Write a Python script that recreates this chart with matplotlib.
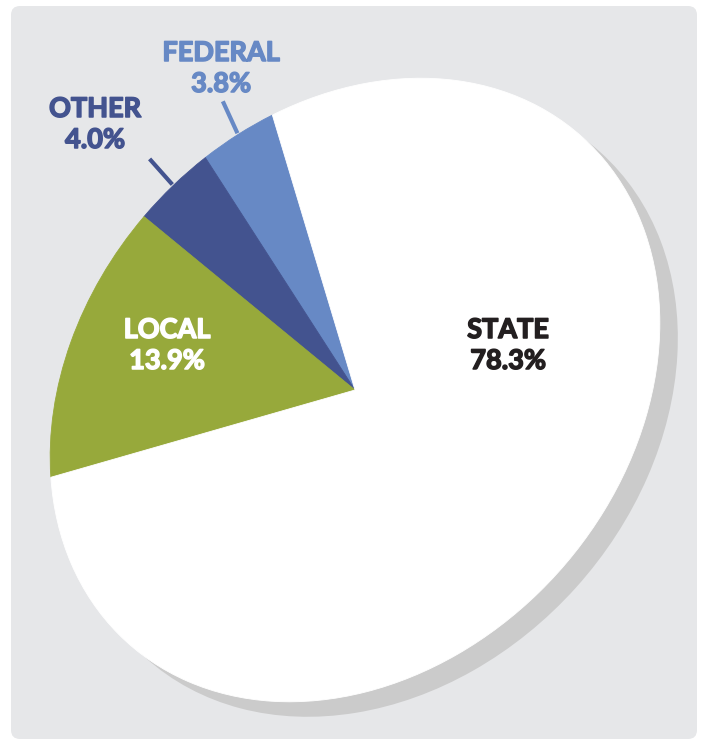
import numpy as np
import matplotlib.pyplot as plt
import matplotlib.patheffects as pe
from matplotlib.patches import FancyBboxPatch
from matplotlib.transforms import Affine2D

plt.rcParams['font.family'] = ['Lato', 'DejaVu Sans']

####################################
# data
####################################
categories = ['FEDERAL', 'OTHER', 'LOCAL', 'STATE']
shares = [3.8, 4.0, 13.9, 78.3]
colors = ['#6789c5', '#43538f', '#97a93b', '#ffffff']
label_colors = ['#6789c5', '#43538f', '#ffffff', '#231f20']

####################################
# layout (pixel units, y measured from top)
####################################
W, H = 702, 740
cx, cy = 355, H - 390          # apex of the pie
ax_major, ax_minor, tilt = 340, 273, 48   # pie is drawn as a tilted ellipse
shadow_dx, shadow_dy = 18, -15
label_xy = [(221, 53), (95, 109), (167, 330), (508, 330)]
line_gap = 31
fsize = 19.5

fig = plt.figure(figsize=(W / 100, H / 100), dpi=100)
ax = fig.add_axes([0, 0, 1, 1])

# grey card behind the chart
card = FancyBboxPatch((11, 1), 686, 733, boxstyle="round,pad=0,rounding_size=9",
                      facecolor='#e6e7e9', edgecolor='none', zorder=0)
ax.add_patch(card)

ell = Affine2D().scale(ax_major, ax_minor).rotate_deg(tilt)
tr = ell + Affine2D().translate(cx, cy) + ax.transData
tr_shadow = ell + Affine2D().translate(cx + shadow_dx, cy + shadow_dy) + ax.transData

# drop shadow
sh, _ = ax.pie([1], colors=['#cbcbcb'], radius=1, wedgeprops=dict(linewidth=0))
for w in sh:
    w.set_transform(tr_shadow)
    w.set_zorder(1)

wedges, _ = ax.pie(shares, colors=colors, startangle=64, counterclock=True, radius=1,
                   wedgeprops=dict(linewidth=0.6))
for w, c in zip(wedges, colors):
    w.set_transform(tr)
    w.set_edgecolor(c)
    w.set_zorder(2)

# leader lines for the two small slices
for w, c in zip(wedges[:2], label_colors[:2]):
    mid = np.deg2rad((w.theta1 + w.theta2) / 2)
    rr = np.array([1.005, 1.13])
    ax.plot(rr * np.cos(mid), rr * np.sin(mid), color=c, lw=3,
            solid_capstyle='butt', transform=tr, zorder=3)

for name, pct, (x, y), c in zip(categories, shares, label_xy, label_colors):
    thick = [pe.withStroke(linewidth=1.1, foreground=c)]
    ax.text(x, H - y, name, ha='center', va='center', fontsize=fsize,
            fontweight='bold', color=c, zorder=4, path_effects=thick)
    ax.text(x, H - y - line_gap, '{:.1f}%'.format(pct), ha='center', va='center',
            fontsize=fsize, fontweight='bold', color=c, zorder=4, path_effects=thick)

ax.set_xlim(0, W)
ax.set_ylim(0, H)
ax.set_aspect('auto')
ax.axis('off')

fig.savefig('out.png', dpi=100, facecolor='white')
